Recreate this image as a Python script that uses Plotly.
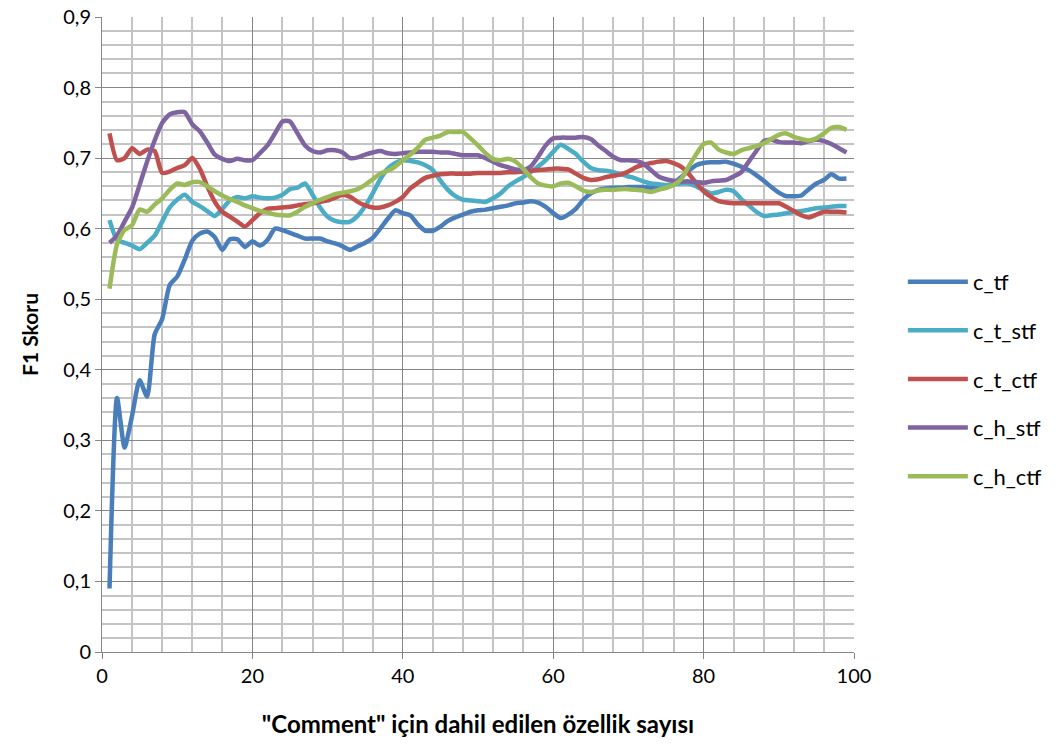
import plotly.graph_objects as go

x_vals = list(range(1, 100))

c_tf = [0.09, 0.36, 0.29, 0.335, 0.385, 0.362, 0.45, 0.472, 0.52, 0.532,
        0.556, 0.583, 0.593, 0.596, 0.588, 0.570, 0.585, 0.585, 0.574, 0.582,
        0.576, 0.584, 0.600, 0.598, 0.594, 0.590, 0.586, 0.586, 0.586, 0.582,
        0.579, 0.575, 0.570, 0.575, 0.580, 0.587, 0.600, 0.614, 0.626, 0.622,
        0.619, 0.606, 0.597, 0.597, 0.603, 0.611, 0.616, 0.620, 0.624, 0.626,
        0.627, 0.629, 0.631, 0.633, 0.636, 0.637, 0.639, 0.637, 0.631, 0.622,
        0.615, 0.620, 0.628, 0.641, 0.650, 0.655, 0.657, 0.658, 0.658, 0.659,
        0.659, 0.659, 0.658, 0.657, 0.658, 0.664, 0.673, 0.682, 0.690, 0.693,
        0.694, 0.694, 0.695, 0.692, 0.688, 0.683, 0.676, 0.668, 0.659, 0.651,
        0.646, 0.646, 0.647, 0.656, 0.664, 0.669, 0.677, 0.671, 0.671]

c_t_stf = [0.612, 0.584, 0.580, 0.576, 0.571, 0.580, 0.590, 0.610, 0.630, 0.641,
           0.648, 0.638, 0.632, 0.625, 0.618, 0.628, 0.640, 0.645, 0.643, 0.646,
           0.644, 0.643, 0.644, 0.648, 0.656, 0.658, 0.664, 0.648, 0.630, 0.617,
           0.611, 0.609, 0.610, 0.618, 0.632, 0.650, 0.670, 0.685, 0.693, 0.697,
           0.696, 0.694, 0.690, 0.683, 0.668, 0.655, 0.646, 0.641, 0.640, 0.639,
           0.638, 0.643, 0.650, 0.660, 0.667, 0.673, 0.680, 0.688, 0.697, 0.709,
           0.719, 0.713, 0.706, 0.695, 0.686, 0.683, 0.682, 0.680, 0.677, 0.674,
           0.671, 0.667, 0.664, 0.663, 0.662, 0.663, 0.664, 0.664, 0.660, 0.655,
           0.650, 0.652, 0.655, 0.653, 0.642, 0.633, 0.624, 0.618, 0.619, 0.620,
           0.622, 0.624, 0.625, 0.627, 0.629, 0.630, 0.631, 0.632, 0.632]

c_t_ctf = [0.735, 0.697, 0.700, 0.714, 0.706, 0.712, 0.710, 0.679, 0.681, 0.686,
           0.690, 0.700, 0.685, 0.660, 0.638, 0.624, 0.617, 0.610, 0.603, 0.612,
           0.622, 0.628, 0.629, 0.630, 0.631, 0.633, 0.635, 0.636, 0.638, 0.640,
           0.644, 0.648, 0.645, 0.638, 0.633, 0.630, 0.630, 0.633, 0.638, 0.645,
           0.657, 0.665, 0.672, 0.675, 0.677, 0.678, 0.678, 0.678, 0.678, 0.679,
           0.679, 0.679, 0.679, 0.680, 0.680, 0.681, 0.682, 0.683, 0.684, 0.685,
           0.685, 0.684, 0.678, 0.672, 0.669, 0.670, 0.673, 0.675, 0.677, 0.681,
           0.687, 0.691, 0.693, 0.695, 0.696, 0.693, 0.688, 0.678, 0.665, 0.653,
           0.645, 0.639, 0.637, 0.636, 0.636, 0.636, 0.636, 0.636, 0.636, 0.636,
           0.631, 0.625, 0.619, 0.616, 0.620, 0.624, 0.624, 0.624, 0.623]

c_h_stf = [0.580, 0.590, 0.610, 0.630, 0.662, 0.695, 0.725, 0.750, 0.762, 0.765,
           0.765, 0.748, 0.738, 0.722, 0.705, 0.699, 0.696, 0.699, 0.697, 0.697,
           0.707, 0.718, 0.735, 0.752, 0.752, 0.735, 0.718, 0.710, 0.708, 0.711,
           0.711, 0.708, 0.700, 0.701, 0.705, 0.708, 0.710, 0.707, 0.706, 0.707,
           0.708, 0.709, 0.709, 0.709, 0.708, 0.708, 0.706, 0.704, 0.704, 0.704,
           0.700, 0.695, 0.690, 0.687, 0.684, 0.683, 0.688, 0.702, 0.718, 0.728,
           0.729, 0.729, 0.729, 0.730, 0.727, 0.718, 0.710, 0.702, 0.697, 0.697,
           0.696, 0.692, 0.683, 0.674, 0.670, 0.668, 0.667, 0.667, 0.666, 0.665,
           0.667, 0.668, 0.669, 0.674, 0.680, 0.695, 0.710, 0.724, 0.726, 0.723,
           0.722, 0.722, 0.721, 0.724, 0.726, 0.724, 0.720, 0.714, 0.708]

c_h_ctf = [0.515, 0.578, 0.598, 0.605, 0.627, 0.624, 0.634, 0.643, 0.655, 0.664,
           0.662, 0.666, 0.666, 0.660, 0.653, 0.647, 0.642, 0.638, 0.633, 0.629,
           0.625, 0.623, 0.620, 0.619, 0.619, 0.624, 0.631, 0.636, 0.641, 0.645,
           0.649, 0.651, 0.653, 0.656, 0.662, 0.670, 0.678, 0.682, 0.688, 0.697,
           0.705, 0.715, 0.726, 0.729, 0.732, 0.737, 0.737, 0.737, 0.728, 0.718,
           0.707, 0.699, 0.697, 0.699, 0.695, 0.685, 0.673, 0.664, 0.661, 0.660,
           0.664, 0.665, 0.660, 0.654, 0.652, 0.654, 0.655, 0.655, 0.656, 0.656,
           0.655, 0.654, 0.652, 0.655, 0.658, 0.662, 0.670, 0.688, 0.705, 0.720,
           0.722, 0.712, 0.708, 0.706, 0.711, 0.714, 0.717, 0.721, 0.727, 0.733,
           0.735, 0.730, 0.727, 0.725, 0.728, 0.735, 0.743, 0.744, 0.740]

series_names = ["c_tf", "c_t_stf", "c_t_ctf", "c_h_stf", "c_h_ctf"]
series_values = [c_tf, c_t_stf, c_t_ctf, c_h_stf, c_h_ctf]
series_colors = ["#4A7EBB", "#4BACC6", "#C0504D", "#8064A2", "#9BBB59"]

x_title = "\"Comment\" için dahil edilen özellik sayısı"
y_title = "F1 Skoru"

FONT = "Lato"

fig = go.Figure()
for name, vals, col in zip(series_names, series_values, series_colors):
    fig.add_trace(go.Scatter(
        x=x_vals, y=vals, name=name, mode="lines",
        line=dict(color=col, width=4.5, shape="spline", smoothing=0.6),
        legendgroup=name,
    ))

fig.update_layout(
    width=1061, height=745,
    margin=dict(l=102, r=207, t=17, b=93),
    paper_bgcolor="white", plot_bgcolor="white",
    separators=",.",
    font=dict(family=FONT, size=20, color="#000000"),
    showlegend=True,
    legend=dict(
        x=1.065, xanchor="left", y=0.43, yanchor="middle",
        font=dict(family=FONT, size=22, color="#000000"),
        tracegroupgap=17, itemwidth=60,
        bgcolor="rgba(0,0,0,0)",
    ),
)

fig.update_xaxes(
    range=[0, 100], dtick=20, tick0=0, automargin=False,
    showgrid=True, gridcolor="#868686", gridwidth=1,
    minor=dict(dtick=4, tick0=0, showgrid=True, gridcolor="#C4C4C4", gridwidth=1.5),
    showline=True, linecolor="#868686", linewidth=1,
    ticks="outside", ticklen=6, tickcolor="#868686",
    mirror=False, zeroline=False,
    title=dict(text=x_title, font=dict(family=FONT, size=24, color="#000000", weight="bold"), standoff=30),
    tickfont=dict(family=FONT, size=20, color="#000000"),
)
fig.update_yaxes(
    range=[0, 0.9], dtick=0.1, tick0=0, automargin=False,
    showgrid=True, gridcolor="#868686", gridwidth=1,
    minor=dict(dtick=0.02, tick0=0, showgrid=True, gridcolor="#C4C4C4", gridwidth=1.5),
    showline=True, linecolor="#868686", linewidth=1,
    ticks="outside", ticklen=6, tickcolor="#868686",
    zeroline=False,
    title=dict(text=y_title, font=dict(family=FONT, size=21, color="#000000", weight="bold"), standoff=18),
    tickfont=dict(family=FONT, size=20, color="#000000"),
)

fig.write_html("out.html")
